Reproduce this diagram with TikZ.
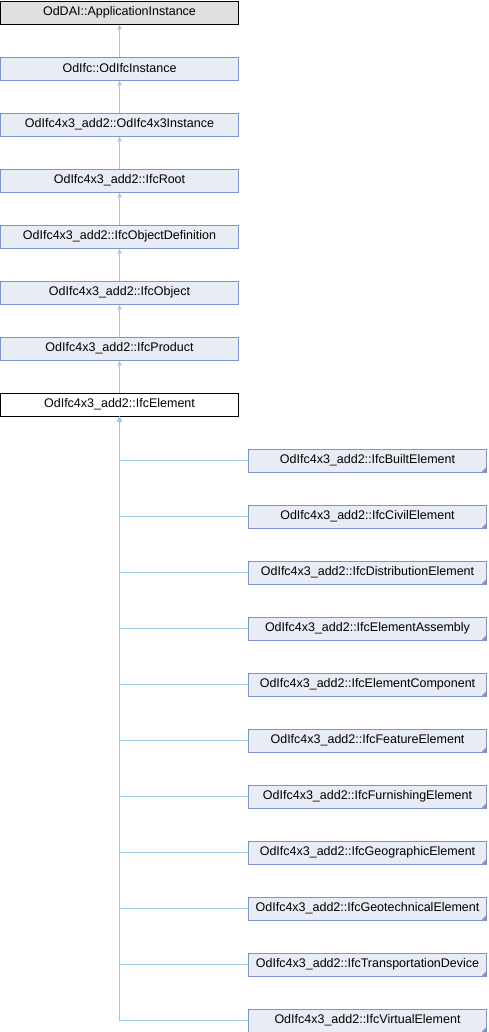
\documentclass[tikz,border=0pt]{standalone}
\usepackage{fontspec}
\setmainfont{Liberation Sans}
\usetikzlibrary{arrows.meta}
\definecolor{edgeblue}{HTML}{9CCAE6}
\definecolor{boxfill}{HTML}{E8ECF5}
\definecolor{boxdraw}{HTML}{7F95C9}
\definecolor{topfill}{HTML}{E0E0E0}
\tikzset{
  cls/.style={draw=boxdraw, fill=boxfill, minimum width=238pt, minimum height=23pt, inner sep=0pt, font=\fontsize{12.5pt}{14pt}\selectfont, line width=0.8pt},
  topcls/.style={cls, draw=black, fill=topfill},
  curcls/.style={cls, draw=black, fill=white},
  inh/.style={draw=edgeblue, line width=0.8pt, -{Latex[length=5pt,width=5pt]}},
}
\begin{document}
\begin{tikzpicture}[x=1pt,y=-1pt]
\useasboundingbox (0,0) rectangle (488,1032);
\node[topcls] (n0) at (119.5,12.5) {OdDAI::ApplicationInstance};
\node[cls] (n1) at (119.5,68.5) {OdIfc::OdIfcInstance};
\node[cls] (n2) at (119.5,124.5) {OdIfc4x3\_add2::OdIfc4x3Instance};
\node[cls] (n3) at (119.5,180.5) {OdIfc4x3\_add2::IfcRoot};
\node[cls] (n4) at (119.5,236.5) {OdIfc4x3\_add2::IfcObjectDefinition};
\node[cls] (n5) at (119.5,292.5) {OdIfc4x3\_add2::IfcObject};
\node[cls] (n6) at (119.5,348.5) {OdIfc4x3\_add2::IfcProduct};
\node[curcls] (n7) at (119.5,404.5) {OdIfc4x3\_add2::IfcElement};
\foreach \a/\b in {n1/n0,n2/n1,n3/n2,n4/n3,n5/n4,n6/n5,n7/n6}
  \draw[inh] (\a.north) -- (\b.south);
\foreach \i/\t in {0/IfcBuiltElement,1/IfcCivilElement,2/IfcDistributionElement,3/IfcElementAssembly,4/IfcElementComponent,5/IfcFeatureElement,6/IfcFurnishingElement,7/IfcGeographicElement,8/IfcGeotechnicalElement,9/IfcTransportationDevice,10/IfcVirtualElement}{
  \node[cls] (c\i) at (367.5,{460.5+56*\i}) {OdIfc4x3\_add2::\t};
  \fill[boxdraw] ([xshift=-0.4pt,yshift=0.4pt]c\i.south east) -- ++(0,-5) -- ++(-5,5) -- cycle;
  \draw[inh] (c\i.west) -| (n7.south);
}
\end{tikzpicture}
\end{document}
